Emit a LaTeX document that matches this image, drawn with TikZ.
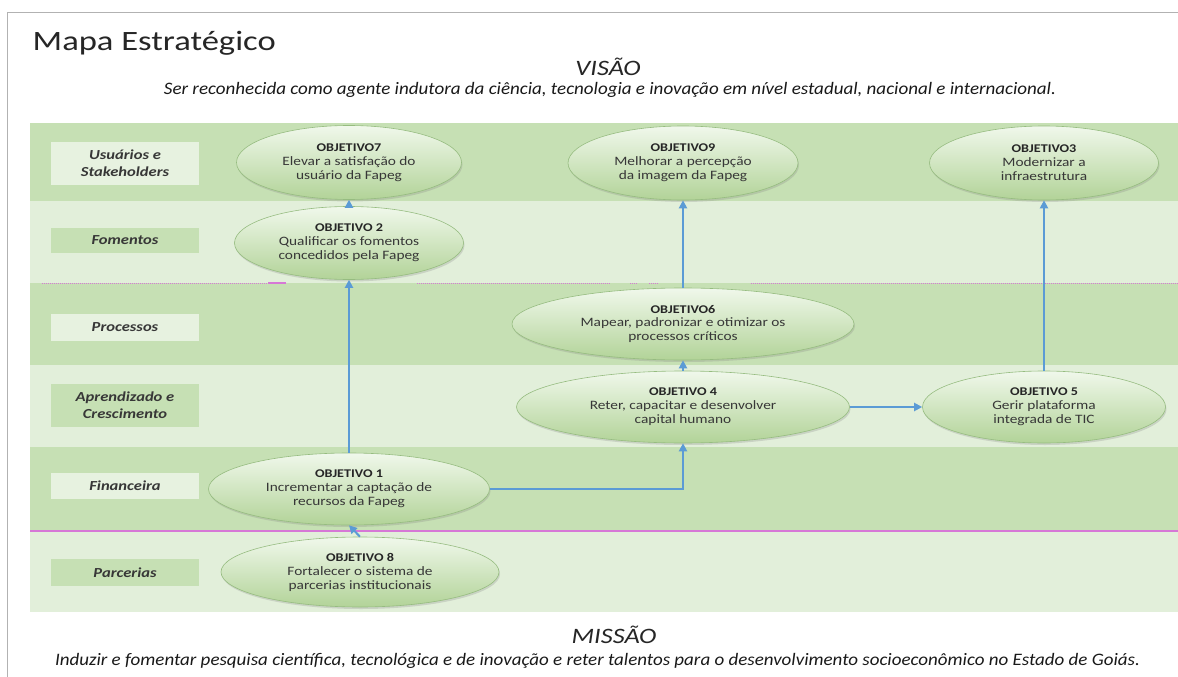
\documentclass[tikz,border=0pt]{standalone}
\usepackage{fontspec}
\usepackage{graphicx}
\setmainfont{Carlito}
\newfontfamily\cf[FakeStretch=1.2]{Carlito}
\usetikzlibrary{shapes.geometric,arrows.meta,shadows}
\definecolor{dk}{RGB}{198,224,180}
\definecolor{lt}{RGB}{226,239,218}
\definecolor{lbl}{RGB}{231,242,224}
\definecolor{arrc}{RGB}{91,155,213}
\definecolor{pinkc}{RGB}{214,120,214}
\definecolor{txt}{RGB}{55,55,55}
\definecolor{ehi}{RGB}{240,248,235}
\definecolor{emid}{RGB}{214,234,200}
\definecolor{elo}{RGB}{178,211,152}
\definecolor{edr}{RGB}{150,188,128}
\newcommand\objt[1]{{\fontsize{11.8}{14}\selectfont\bfseries\color{black!85}#1}}
\newcommand\fitw[2]{\resizebox{#1}{\height}{#2}}
\begin{document}
\begin{tikzpicture}[x=1pt,y=-1pt,
  lblbox/.style={rectangle, inner sep=0pt, minimum width=148pt, align=center,
     text=txt, font=\cf\bfseries\itshape\fontsize{13.8}{17}\selectfont},
  obj/.style={ellipse, inner sep=0pt, top color=ehi, middle color=emid, bottom color=elo, draw=edr,
     line width=0.6pt, drop shadow={opacity=0.25, shadow xshift=1pt, shadow yshift=-2pt},
     align=center, text=txt, font=\cf\fontsize{12.8}{14}\selectfont},
  arr/.style={draw=arrc, line width=2pt, -{Triangle[length=8pt,width=8pt]}},
  pdot/.style={pinkc, line width=1pt, dash pattern=on 1pt off 1pt}]
\useasboundingbox (0,0) rectangle (1178,677);
\fill[white] (0,0) rectangle (1178,677);
% outer frame
\draw[black!30, line width=1pt] (7.5,677) -- (7.5,13) -- (1178,13);
% rows
\fill[dk] (30,123) rectangle (1178,201);
\fill[lt] (30,201) rectangle (1178,283);
\fill[dk] (30,283) rectangle (1178,365);
\fill[lt] (30,365) rectangle (1178,447);
\fill[dk] (30,447) rectangle (1178,531);
\fill[lt] (30,531) rectangle (1178,612);
% separators
\draw[pdot] (42,283) -- (268,283);
\draw[pinkc, line width=1.5pt] (268,283) -- (286,283);
\draw[pdot] (417,283) -- (610,283);
\draw[pdot] (630,283) -- (638,283);
\draw[pdot] (649,283) -- (658,283);
\draw[pdot] (751,283) -- (1178,283);
\draw[pinkc, line width=1.6pt] (30,531) -- (1178,531);
% titles
\node[anchor=base west, inner sep=0pt, text=black!85] (title) at (32.5,51) {\fitw{243pt}{\cf\fontsize{28}{30}\selectfont Mapa Estratégico}};
\node[anchor=base, inner sep=0pt, text=black!85] (visao) at (608,75) {\cf\itshape\fontsize{22}{24}\selectfont VISÃO};
\node[anchor=base, inner sep=0pt, text=black!90] (vtext) at (610,95) {\fitw{892pt}{\cf\itshape\fontsize{17.5}{18}\selectfont Ser reconhecida como agente indutora da ciência, tecnologia e inovação em nível estadual, nacional e internacional.}};
\node[anchor=base, inner sep=0pt, text=black!85] (missao) at (614,643) {\cf\itshape\fontsize{22}{24}\selectfont MISSÃO};
\node[anchor=base, inner sep=0pt, text=black!90] (mtext) at (597.5,665) {\fitw{1085pt}{\cf\itshape\fontsize{17.5}{18}\selectfont Induzir e fomentar pesquisa científica, tecnológica e de inovação e reter talentos para o desenvolvimento socioeconômico no Estado de Goiás.}};
% labels
\node[lblbox, fill=lbl, minimum height=43pt] (l1) at (125,163.5) {Usuários e\\Stakeholders};
\node[lblbox, fill=dk, minimum height=25pt] (l2) at (125,240.5) {Fomentos};
\node[lblbox, fill=lbl, minimum height=27pt] (l3) at (125,327.5) {Processos};
\node[lblbox, fill=dk, minimum height=43pt] (l4) at (125,405.5) {Aprendizado e\\Crescimento};
\node[lblbox, fill=lbl, minimum height=26pt] (l5) at (125,486) {Financeira};
\node[lblbox, fill=dk, minimum height=27pt] (l6) at (125,572.5) {Parcerias};
% objectives
\node[obj, minimum width=225pt, minimum height=74pt] (o7) at (349,162.5) {\objt{OBJETIVO7}\\Elevar a satisfação do\\usuário da Fapeg};
\node[obj, minimum width=230pt, minimum height=74pt] (o9) at (683,163) {\objt{OBJETIVO9}\\Melhorar a percepção\\da imagem da Fapeg};
\node[obj, minimum width=229pt, minimum height=74pt] (o3) at (1044,163) {\objt{OBJETIVO3}\\Modernizar a\\infraestrutura};
\node[obj, minimum width=229pt, minimum height=73pt] (o2) at (349,243) {\objt{OBJETIVO 2}\\Qualificar os fomentos\\concedidos pela Fapeg};
\node[obj, minimum width=342pt, minimum height=72pt] (o6) at (683,324) {\objt{OBJETIVO6}\\Mapear, padronizar e otimizar os\\processos críticos};
\node[obj, minimum width=333pt, minimum height=72pt] (o4) at (683,407) {\objt{OBJETIVO 4}\\Reter, capacitar e desenvolver\\capital humano};
\node[obj, minimum width=243pt, minimum height=72pt] (o5) at (1044,407) {\objt{OBJETIVO 5}\\Gerir plataforma\\integrada de TIC};
\node[obj, minimum width=281pt, minimum height=72pt] (o1) at (349,489) {\objt{OBJETIVO 1}\\Incrementar a captação de\\recursos da Fapeg};
\node[obj, minimum width=278pt, minimum height=70pt] (o8) at (360,572) {\objt{OBJETIVO 8}\\Fortalecer o sistema de\\parcerias institucionais};
% connectors
\draw[arr] (o2.north) -- (o7.south);
\draw[arr] (o1.north) -- (o2.south);
\draw[arr] (o8.north) -- (o1.south);
\draw[arr] (o1.east) -| (o4.south);
\draw[arr] (o4.north) -- (o6.south);
\draw[arr] (o6.north) -- (o9.south);
\draw[arr] (o4.east) -- (o5.west);
\draw[arr] (o5.north) -- (o3.south);
\end{tikzpicture}
\end{document}
